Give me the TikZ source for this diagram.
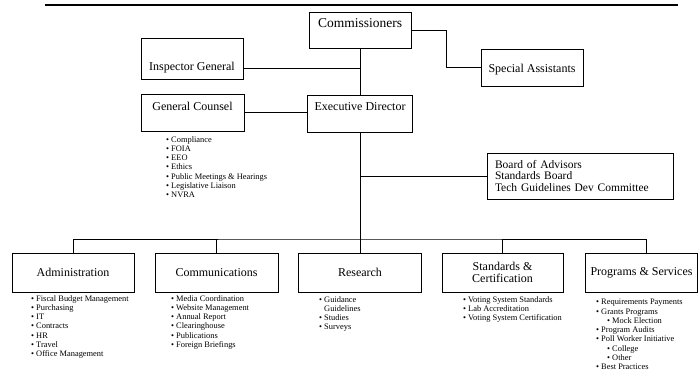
\documentclass[tikz,border=0pt]{standalone}
\usepackage{fontspec}
\setmainfont{Liberation Serif}
\usepackage{tikz}
\usetikzlibrary{positioning}

\tikzset{
  unit/.style={draw, line width=0.6pt, inner ysep=0pt, font=\fontsize{12}{14}\selectfont},
  division/.style={unit, minimum height=39pt, align=center, font=\fontsize{12}{12}\selectfont},
  duties/.style={anchor=north west, align=left, inner sep=0pt, font=\fontsize{8.4}{9.3}\selectfont},
  link/.style={line width=0.6pt}
}

\begin{document}
\begin{tikzpicture}[x=1pt,y=-1pt]
\useasboundingbox (0,0) rectangle (699,377);
\draw[line width=2pt] (45,5) -- (678,5);

% top of the chart
\node[unit, minimum width=102pt, text height=16pt, text depth=20pt, font=\fontsize{13.5}{16}\selectfont] (comm) at (360,30) {Commissioners};
\node[unit, minimum width=102pt, text height=33pt, text depth=8pt] (insp) at (192,58.5) {Inspector General};
\node[unit, minimum width=102pt, text height=24pt, text depth=13pt] (spec) at (532,67.5) {Special Assistants};
\node[unit, minimum width=103pt, text height=17pt, text depth=20pt] (gc) at (192.5,112.5) {General Counsel};
\node[unit, minimum width=105pt, text height=16pt, text depth=21pt] (ed) at (360,113.5) {Executive Director};
\node[unit, minimum width=186pt, minimum height=46pt, text width=170pt, inner xsep=8pt, align=left, font=\fontsize{11.5}{11.5}\selectfont] (board) at (580,176) {Board of Advisors\\Standards Board\\Tech Guidelines Dev Committee};

\node[duties] (gclist) at (166,136) {\textbullet\ Compliance\\\textbullet\ FOIA\\\textbullet\ EEO\\\textbullet\ Ethics\\\textbullet\ Public Meetings \& Hearings\\\textbullet\ Legislative Liaison\\\textbullet\ NVRA};

% divisions
\node[division, minimum width=122pt] (admin) at (73,272.5) {Administration};
\node[division, minimum width=123pt] (comms) at (216.5,272.5) {Communications};
\node[division, minimum width=123pt] (research) at (360,272.5) {Research};
\node[division, minimum width=121pt] (std) at (502.5,272.5) {Standards \&\\Certification};
\node[division, minimum width=112pt] (prog) at (641.5,272.5) {Programs \& Services};

\node[duties] (adminlist) at (31,295) {\textbullet\ Fiscal Budget Management\\\textbullet\ Purchasing\\\textbullet\ IT\\\textbullet\ Contracts\\\textbullet\ HR\\\textbullet\ Travel\\\textbullet\ Office Management};
\node[duties] (commslist) at (171,295) {\textbullet\ Media Coordination\\\textbullet\ Website Management\\\textbullet\ Annual Report\\\textbullet\ Clearinghouse\\\textbullet\ Publications\\\textbullet\ Foreign Briefings};
\node[duties] (researchlist) at (319,296) {\textbullet\ Guidance\\\phantom{\textbullet\ }Guidelines\\\textbullet\ Studies\\\textbullet\ Surveys};
\node[duties] (stdlist) at (463,296) {\textbullet\ Voting System Standards\\\textbullet\ Lab Accreditation\\\textbullet\ Voting System Certification};
\node[duties] (proglist) at (596,299) {\textbullet\ Requirements Payments\\\textbullet\ Grants Programs\\\hspace*{11pt}\textbullet\ Mock Election\\\textbullet\ Program Audits\\\textbullet\ Poll Worker Initiative\\\hspace*{11pt}\textbullet\ College\\\hspace*{11pt}\textbullet\ Other\\\textbullet\ Best Practices};

% lines
\coordinate (bus) at (360,239);
\draw[link] (comm.south) -- (ed.north);
\draw[link] (insp.mid east) -- (insp.mid east -| ed.north);
\draw[link] (comm.east) -- ++(35,0) |- (spec.west);
\draw[link] (gc.east) -- (ed.west |- gc.east);
\draw[link] (ed.south) -- (bus);
\draw[link] (board.west) -- (board.west -| ed.south);
\draw[link] (admin.north) |- (bus) -| ([xshift=5pt]prog.north);
\foreach \u in {comms,research,std}
  \draw[link] (\u.north) -- (\u.north |- bus);
\end{tikzpicture}
\end{document}
